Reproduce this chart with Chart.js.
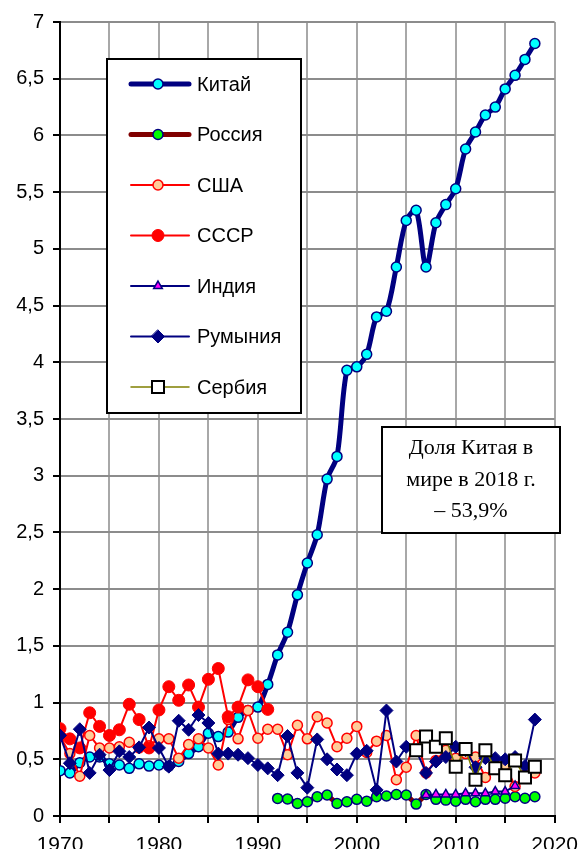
<!DOCTYPE html>
<html>
<head>
<meta charset="utf-8">
<script src="https://cdn.jsdelivr.net/npm/chart.js@4.4.1/dist/chart.umd.min.js"></script>
<style>
  html, body { margin: 0; padding: 0; background: #fff; }
  #wrap { width: 588px; height: 849px; }
</style>
</head>
<body>
<div id="wrap"><canvas id="prodChart" width="588" height="849"></canvas></div>
<script>
// production share, by year
const chinaStart = 1970;
const chinaValues = [0.40, 0.38, 0.47, 0.52, 0.52, 0.46, 0.45, 0.42, 0.46, 0.44,
  0.45, 0.44, 0.48, 0.55, 0.61, 0.73, 0.70, 0.74, 0.87, 0.93,
  0.96, 1.16, 1.42, 1.62, 1.95, 2.23, 2.48, 2.97, 3.17, 3.93,
  3.96, 4.07, 4.40, 4.45, 4.84, 5.25, 5.34, 4.84, 5.23, 5.39,
  5.53, 5.88, 6.03, 6.18, 6.25, 6.41, 6.53, 6.67, 6.81];

const russiaStart = 1992;
const russiaValues = [0.155, 0.15, 0.11, 0.126, 0.17, 0.185, 0.11, 0.126, 0.147,
  0.13, 0.17, 0.176, 0.19, 0.185, 0.105, 0.19, 0.147, 0.14, 0.13,
  0.147, 0.126, 0.147, 0.147, 0.156, 0.17, 0.156, 0.17];

const usaStart = 1970;
const usaValues = [0.70, 0.55, 0.35, 0.71, 0.60, 0.60, 0.61, 0.65, 0.60, 0.62,
  0.68, 0.68, 0.51, 0.63, 0.68, 0.60, 0.45, 0.85, 0.68, 0.93,
  0.685, 0.765, 0.765, 0.54, 0.80, 0.68, 0.875, 0.82, 0.61, 0.685,
  0.79, 0.56, 0.66, 0.71, 0.32, 0.43, 0.71, 0.38, 0.49, 0.58,
  0.51, 0.55, 0.52, 0.34, 0.45, 0.45, 0.26, 0.36, 0.38];

const ussrStart = 1970;
const ussrValues = [0.77, 0.68, 0.60, 0.91, 0.79, 0.71, 0.76, 0.985, 0.85, 0.60,
  0.935, 1.14, 1.02, 1.155, 0.96, 1.205, 1.30, 0.875, 0.96, 1.20,
  1.14, 0.94];

const indiaStart = 2007;
const indiaValues = [0.185, 0.19, 0.19, 0.19, 0.20, 0.20, 0.20, 0.215, 0.215, 0.265];

const romaniaStart = 1970;
const romaniaValues = [0.71, 0.465, 0.765, 0.38, 0.54, 0.405, 0.57, 0.52, 0.605, 0.78,
  0.60, 0.435, 0.84, 0.76, 0.89, 0.82, 0.55, 0.55, 0.54, 0.51,
  0.45, 0.42, 0.36, 0.705, 0.38, 0.25, 0.675, 0.50, 0.41, 0.36,
  0.55, 0.575, 0.23, 0.93, 0.48, 0.61, 0.58, 0.38, 0.48, 0.52,
  0.61, 0.58, 0.43, 0.51, 0.51, 0.50, 0.52, 0.44, 0.85];

const serbiaStart = 2006;
const serbiaValues = [0.58, 0.70, 0.61, 0.685, 0.435, 0.59, 0.32, 0.58, 0.42, 0.36,
  0.49, 0.34, 0.435];

const seriesNames = ['Китай', 'Россия', 'США', 'СССР', 'Индия', 'Румыния', 'Сербия'];
const noteLines = ['Доля Китая в', 'мире в 2018 г.', '– 53,9%'];

function toPoints(start, values) {
  return values.map((v, i) => ({ x: start + i, y: v }));
}

const sansFont = 'Arial, "Liberation Sans", sans-serif';
const serifFont = '"Times New Roman", "Liberation Serif", serif';

// styles per series, also used by the legend
const styles = [
  { line: '#000080', lw: 5, shape: 'circle', fill: '#00ffff', stroke: '#000080', r: 5, bw: 1.5 },
  { line: '#800000', lw: 5, shape: 'circle', fill: '#00ff00', stroke: '#000080', r: 5, bw: 1.5 },
  { line: '#ff0000', lw: 2, shape: 'circle', fill: '#ffcc99', stroke: '#ff0000', r: 5, bw: 1.5 },
  { line: '#ff0000', lw: 2, shape: 'circle', fill: '#ff0000', stroke: '#ff0000', r: 6, bw: 1 },
  { line: '#000080', lw: 2, shape: 'triangle', fill: '#ff00ff', stroke: '#000080', r: 5, bw: 1.5 },
  { line: '#000080', lw: 2, shape: 'rectRot', fill: '#000080', stroke: '#000080', r: 6.5, bw: 1 },
  { line: '#808000', lw: 1.5, shape: 'rect', fill: '#ffffff', stroke: '#000000', r: 8.5, bw: 2 }
];

const seriesData = [
  toPoints(chinaStart, chinaValues),
  toPoints(russiaStart, russiaValues),
  toPoints(usaStart, usaValues),
  toPoints(ussrStart, ussrValues),
  toPoints(indiaStart, indiaValues),
  toPoints(romaniaStart, romaniaValues),
  toPoints(serbiaStart, serbiaValues)
];

const datasets = seriesData.map((pts, i) => ({
  label: seriesNames[i],
  data: pts,
  borderColor: styles[i].line,
  borderWidth: styles[i].lw,
  pointStyle: styles[i].shape,
  pointRadius: styles[i].r,
  pointBackgroundColor: styles[i].fill,
  pointBorderColor: styles[i].stroke,
  pointBorderWidth: styles[i].bw,
  tension: i === 0 ? 0.3 : 0,
  order: 10 - i,
  fill: false
}));

// legend box and note, drawn on top of the plot
const overlayPlugin = {
  id: 'overlay',
  afterDraw(chart) {
    const ctx = chart.ctx;
    ctx.save();

    // legend
    ctx.fillStyle = '#fff';
    ctx.fillRect(107, 59, 194, 354);
    ctx.strokeStyle = '#000';
    ctx.lineWidth = 2;
    ctx.strokeRect(107, 59, 194, 354);
    ctx.font = '20px ' + sansFont;
    ctx.textBaseline = 'middle';
    ctx.textAlign = 'left';
    seriesNames.forEach((name, i) => {
      const s = styles[i];
      const y = 84 + i * 50.5;
      ctx.beginPath();
      ctx.moveTo(131, y);
      ctx.lineTo(189, y);
      ctx.strokeStyle = s.line;
      ctx.lineWidth = s.lw;
      ctx.lineCap = 'round';
      ctx.stroke();
      drawMarker(ctx, s, 158, y);
      ctx.fillStyle = '#000';
      ctx.fillText(name, 197, y + 1);
    });

    // note box
    ctx.fillStyle = '#fff';
    ctx.fillRect(382, 427, 178, 106);
    ctx.strokeStyle = '#000';
    ctx.lineWidth = 2;
    ctx.strokeRect(382, 427, 178, 106);
    ctx.fillStyle = '#000';
    ctx.font = '22px ' + serifFont;
    ctx.textAlign = 'center';
    ctx.textBaseline = 'alphabetic';
    ctx.fillText(noteLines[0], 471, 454);
    ctx.fillText(noteLines[1], 471, 486);
    ctx.fillText(noteLines[2], 471, 517);
    ctx.restore();
  }
};

function drawMarker(ctx, s, x, y) {
  ctx.save();
  ctx.fillStyle = s.fill;
  ctx.strokeStyle = s.stroke;
  ctx.lineWidth = s.bw;
  ctx.beginPath();
  const r = s.r;
  if (s.shape === 'circle') {
    ctx.arc(x, y, r, 0, Math.PI * 2);
  } else if (s.shape === 'triangle') {
    const a = -Math.PI / 2;
    for (let k = 0; k < 3; k++) {
      const ang = a + k * 2 * Math.PI / 3;
      const px = x + Math.cos(ang) * r, py = y + Math.sin(ang) * r;
      if (k === 0) ctx.moveTo(px, py); else ctx.lineTo(px, py);
    }
    ctx.closePath();
  } else if (s.shape === 'rectRot') {
    ctx.moveTo(x, y - r); ctx.lineTo(x + r, y); ctx.lineTo(x, y + r); ctx.lineTo(x - r, y);
    ctx.closePath();
  } else {
    const h = r * Math.SQRT1_2;
    ctx.rect(x - h, y - h, 2 * h, 2 * h);
  }
  ctx.fill();
  ctx.stroke();
  ctx.restore();
}

const ctxProd = document.getElementById('prodChart').getContext('2d');
const prodChart = new Chart(ctxProd, {
  type: 'line',
  data: { datasets: datasets },
  plugins: [overlayPlugin],
  options: {
    responsive: false,
    animation: false,
    devicePixelRatio: 1,
    layout: { padding: { top: 22, right: 26, left: 0, bottom: 0 } },
    plugins: {
      legend: { display: false },
      tooltip: { enabled: false }
    },
    scales: {
      x: {
        type: 'linear',
        min: 1970,
        max: 2020,
        afterFit(scale) { scale.height = 33; },
        border: { color: '#000', width: 2 },
        grid: { color: '#a8a8a8', lineWidth: 2, tickColor: '#000', tickLength: 7, tickWidth: 2 },
        ticks: {
          stepSize: 5,
          autoSkip: false,
          maxRotation: 0,
          padding: 10,
          color: '#000',
          font: { family: sansFont, size: 21 },
          callback: (v) => (v % 10 === 0 ? String(v) : '')
        }
      },
      y: {
        min: 0,
        max: 7,
        afterFit(scale) { scale.width = 60; },
        border: { color: '#000', width: 2 },
        grid: { color: '#8c8c8c', lineWidth: 2, tickColor: '#000', tickLength: 7, tickWidth: 2 },
        ticks: {
          stepSize: 0.5,
          padding: 9,
          color: '#000',
          font: { family: sansFont, size: 20 },
          callback: (v) => String(v).replace('.', ',')
        }
      }
    }
  }
});
</script>
</body>
</html>
